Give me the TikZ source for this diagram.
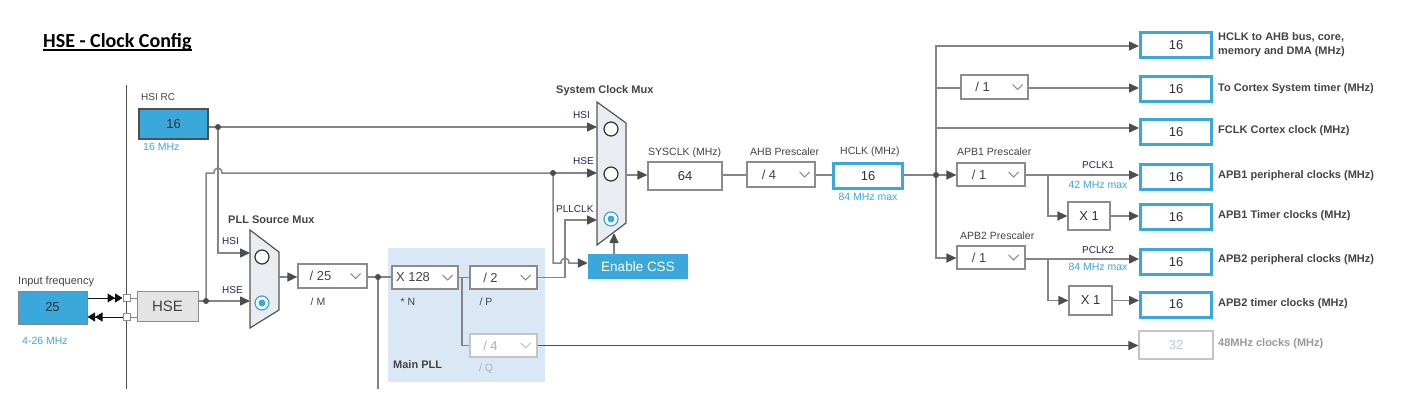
\documentclass[tikz,border=0pt]{standalone}
\usepackage{fontspec}
\setmainfont{Liberation Sans}
\newfontfamily\titlefont{Carlito}
\usetikzlibrary{arrows.meta,calc}
\newcommand\myfs[1]{\fontsize{#1}{#1}\selectfont}
\definecolor{cblue}{HTML}{3AA8DB}
\definecolor{wiregray}{HTML}{858585}
\definecolor{tipgray}{HTML}{4D4D4D}
\definecolor{txtgray}{HTML}{444444}
\definecolor{numgray}{HTML}{333333}
\definecolor{navy}{HTML}{1C2A55}
\definecolor{lbblue}{HTML}{3AA8E0}
\definecolor{muxfill}{HTML}{E9EDF1}
\definecolor{muxline}{HTML}{555555}
\definecolor{pllbg}{HTML}{DAE8F5}
\definecolor{hsefill}{HTML}{E4E4E4}
\definecolor{ddgray}{HTML}{8C8C8C}
\definecolor{dimgray}{HTML}{B0B0B0}
\definecolor{dimline}{HTML}{C4C4C4}
\definecolor{dimnum}{HTML}{B8C9DD}
\definecolor{dimlbl}{HTML}{9A9A9A}
\definecolor{radioline}{HTML}{333333}
\definecolor{blueborder}{HTML}{505050}
\definecolor{inkblack}{HTML}{111111}
\begin{document}
\begin{tikzpicture}[x=1pt,y=-1pt,
  wire/.style={draw=wiregray,line width=1.5pt},
  thinwire/.style={draw=wiregray,line width=1pt},
  darkwire/.style={draw=tipgray,line width=1pt},
  blackwire/.style={draw=inkblack,line width=1pt},
  arr/.style={-{Triangle[length=10pt,width=9pt,color=tipgray]}},
  lbl/.style={anchor=west,inner sep=0,text=txtgray,font=\myfs{10.5}},
  boldlbl/.style={lbl,font=\bfseries\myfs{11}},
  rlbl/.style={lbl,font=\bfseries\myfs{11}},
  navylbl/.style={lbl,text=navy,font=\myfs{10}},
  bluelbl/.style={inner sep=0,text=lbblue,font=\myfs{10.5}},
  sub/.style={inner sep=0,text=txtgray,font=\myfs{10.5}},
  bluebox/.style={fill=cblue,draw=blueborder,line width=1.5pt,font=\myfs{13},text=numgray,inner sep=0},
  vbox/.style={draw=ddgray,fill=white,line width=1.2pt,font=\myfs{13},text=numgray,inner sep=0},
  dd/.style={draw=ddgray,fill=white,line width=1.2pt,inner sep=0},
  dddim/.style={draw=dimline,fill=white,line width=1.2pt,inner sep=0},
  ddtxt/.style={inner sep=0,font=\myfs{13},text=txtgray},
  outbox/.style={draw=cblue,fill=white,line width=3pt,minimum width=71pt,minimum height=25pt,font=\myfs{13},text=numgray,inner sep=0},
  dimbox/.style={draw=dimline,fill=white,line width=1.2pt,minimum width=74pt,minimum height=28pt,font=\myfs{13},text=dimnum,inner sep=0},
  sq/.style={draw=ddgray,fill=white,line width=1pt,minimum size=7pt,inner sep=0},
  mux/.style={draw=muxline,fill=muxfill,line width=1.2pt},
  radio/.style={circle,draw=radioline,fill=white,line width=1.2pt,minimum size=14pt,inner sep=0},
  radiosel/.style={radio,draw=cblue,path picture={\fill[cblue] (path picture bounding box.center) circle (3.5pt);}},
  dot/.style={circle,fill=tipgray,inner sep=0,minimum size=6pt},
  chev/.pic={\draw[draw=ddgray,line width=1pt] (-5,-2.5) -- (0,2.5) -- (5,-2.5);},
  chevdim/.pic={\draw[draw=dimline,line width=1pt] (-5,-2.5) -- (0,2.5) -- (5,-2.5);},
  dtip/.style={-{Triangle[length=7.5pt,width=9pt,color=inkblack]Triangle[length=7.5pt,width=9pt,color=inkblack]}}
]
\useasboundingbox[fill=white] (0,0) rectangle (1408,409);

% ---------- background elements ----------
\node[fill=pllbg,minimum width=157pt,minimum height=134pt,inner sep=0] (mainpll) at (466.5,315) {};
\coordinate (vtop) at (126.5,85);
\coordinate (vbot) at (126.5,389);
\draw[darkwire] (vtop) -- (vbot);

% ---------- title ----------
\node[anchor=base west,inner sep=0,font=\titlefont\bfseries\myfs{20}] (title) at (43,47.5) {HSE - Clock Config};
\draw[line width=1.8pt] ([yshift=-2.8pt]title.base west) -- ([yshift=-2.8pt]title.base east);

% ---------- input / HSE ----------
\node[lbl,font=\myfs{11}] (inlbl) at (18,282) {Input frequency};
\node[bluebox,draw=wiregray,line width=1pt,minimum width=69pt,minimum height=33pt] (infreq) at (52.5,307.5) {25};
\node[bluelbl,anchor=west] (inrange) at (22,341) {4-26 MHz};
\node[sq] (sq1) at (126.5,298) {};
\node[sq] (sq2) at (126.5,317) {};
\node[draw=ddgray,fill=hsefill,line width=1pt,minimum width=61pt,minimum height=30pt,font=\myfs{15},text=txtgray,inner sep=0] (hse) at (167.5,306) {HSE};

\draw[blackwire,dtip] (infreq.east |- sq1) -- (sq1.west);
\draw[blackwire,dtip] (sq2.west) -- (infreq.east |- sq2);
\draw[thinwire] (sq1.east) -- (hse.west |- sq1);
\draw[thinwire] (sq2.east) -- (hse.west |- sq2);

% ---------- HSI RC ----------
\node[lbl,font=\myfs{10}] (hsilbl) at (141,97) {HSI RC};
\node[bluebox,minimum width=69pt,minimum height=30pt] (hsirc) at (173.5,124) {16};
\node[bluelbl,anchor=west] (hsifreq) at (143,147) {16 MHz};

% ---------- PLL source mux ----------
\draw[mux] (250,230) -- (279,252) -- (279,310) -- (250,328) -- cycle;
\node[radio] (pr1) at (262,257) {};
\node[radiosel] (pr2) at (262,303) {};
\node[boldlbl] (pllmuxlbl) at (228,220) {PLL Source Mux};
\node[navylbl] (plhsi) at (222,241) {HSI};
\node[navylbl] (plhse) at (222,290) {HSE};
\coordinate (pllin1) at (250,253);
\coordinate (pllin2) at (250,301);
\coordinate (pllout) at (279,277);

% ---------- PLL ----------
\node[dd,minimum width=69pt,minimum height=24pt] (pllm) at (332.5,276) {};
\node[ddtxt] (pllmt) at ([xshift=-12pt]pllm.center) {/ 25};
\pic at ([xshift=-12pt]pllm.east) {chev};
\node[sub] (pllml) at (318,302) {/ M};

\node[dd,minimum width=66pt,minimum height=23pt] (xn) at (425,277.5) {};
\node[ddtxt] (xnt) at ([xshift=-12pt]xn.center) {X 128};
\pic at ([xshift=-11pt]xn.east) {chev};
\node[sub] (xnl) at (408,302) {* N};

\node[dd,minimum width=67pt,minimum height=23pt] (pdiv) at (503.5,277.5) {};
\node[ddtxt] (pdivt) at ([xshift=-13pt]pdiv.center) {/ 2};
\node[sub] (pdivl) at (486,302) {/ P};
\pic at ([xshift=-12pt]pdiv.east) {chev};

\node[dddim,minimum width=67pt,minimum height=23pt] (qdiv) at (503.5,345.5) {};
\node[ddtxt,text=dimgray] (qdivt) at ([xshift=-13pt]qdiv.center) {/ 4};
\pic at ([xshift=-12pt]qdiv.east) {chevdim};
\node[sub,text=dimgray] (qdivl) at (486,369) {/ Q};
\node[boldlbl] (mainplllbl) at (393,365) {Main PLL};

% ---------- system clock mux ----------
\draw[mux] (597,102) -- (626,123) -- (626,223) -- (597,245) -- cycle;
\node[radio] (sr1) at (611,129) {};
\node[radio] (sr2) at (611,174) {};
\node[radiosel] (sr3) at (611,219) {};
\node[boldlbl] (smlbl) at (556,91) {System Clock Mux};
\node[navylbl] (smhsi) at (573,115) {HSI};
\node[navylbl] (smhse) at (573,161) {HSE};
\node[navylbl] (smpll) at (556,209) {PLLCLK};
\coordinate (smin1) at (597,127);
\coordinate (smin2) at (597,173);
\coordinate (smin3) at (597,220);
\coordinate (smout) at (626,175);
\coordinate (cssup) at (614,233);
\node[fill=cblue,text=white,font=\myfs{13.5},minimum width=100pt,minimum height=25pt,inner sep=0] (css) at (638,266.5) {Enable CSS};

% ---------- SYSCLK / AHB / HCLK ----------
\node[lbl] (sysclklbl) at (648,153) {SYSCLK (MHz)};
\node[vbox,minimum width=74pt,minimum height=28pt] (sysclk) at (685,176) {64};
\node[lbl] (ahblbl) at (750,152) {AHB Prescaler};
\node[dd,minimum width=68pt,minimum height=25pt] (ahb) at (781,174.5) {};
\node[ddtxt] (ahbt) at ([xshift=-12pt]ahb.center) {/ 4};
\pic at ([xshift=-11pt]ahb.east) {chev};
\node[lbl] (hclklbl) at (840,152) {HCLK (MHz)};
\node[outbox,minimum width=69pt] (hclk) at (868,176) {16};
\node[bluelbl] (hclkmax) at (868,197) {84 MHz max};

% ---------- right side ----------
\node[dd,minimum width=67pt,minimum height=24pt] (st) at (994.5,87) {};
\node[ddtxt] (stt) at ([xshift=-12pt]st.center) {/ 1};
\pic at ([xshift=-11pt]st.east) {chev};

\node[lbl] (apb1lbl) at (957,152) {APB1 Prescaler};
\node[dd,minimum width=68pt,minimum height=23pt] (apb1) at (991,174.5) {};
\node[ddtxt] (apb1t) at ([xshift=-12pt]apb1.center) {/ 1};
\pic at ([xshift=-12pt]apb1.east) {chev};
\node[lbl] (apb2lbl) at (960,236) {APB2 Prescaler};
\node[dd,minimum width=68pt,minimum height=23pt] (apb2) at (991,257.5) {};
\node[ddtxt] (apb2t) at ([xshift=-12pt]apb2.center) {/ 1};
\pic at ([xshift=-12pt]apb2.east) {chev};

\node[vbox,minimum width=42pt,minimum height=28pt] (x1a) at (1089,216) {X 1};
\node[vbox,minimum width=43pt,minimum height=29pt] (x1b) at (1090.5,300.5) {X 1};
\node[inner sep=0,text=navy,font=\myfs{10}] (pclk1) at (1098,165) {PCLK1};
\node[bluelbl] (pclk1max) at (1098,185) {42 MHz max};
\node[inner sep=0,text=navy,font=\myfs{10}] (pclk2) at (1098,250) {PCLK2};
\node[bluelbl] (pclk2max) at (1098,267) {84 MHz max};

\node[outbox] (o1) at (1176,45) {16};
\node[outbox] (o2) at (1176,89.5) {16};
\node[outbox] (o3) at (1176,132) {16};
\node[outbox] (o4) at (1176,177) {16};
\node[outbox] (o5) at (1176,217) {16};
\node[outbox] (o6) at (1176,262) {16};
\node[outbox] (o7) at (1176,304.5) {16};
\node[dimbox] (o8) at (1176,345) {32};

\node[rlbl] (t1a) at (1218,37) {HCLK to AHB bus, core,};
\node[rlbl] (t1b) at (1218,52) {memory and DMA (MHz)};
\node[rlbl] (t2) at (1218,89) {To Cortex System timer (MHz)};
\node[rlbl] (t3) at (1218,131) {FCLK Cortex clock (MHz)};
\node[rlbl] (t4) at (1218,176) {APB1 peripheral clocks (MHz)};
\node[rlbl] (t5) at (1218,216) {APB1 Timer clocks (MHz)};
\node[rlbl] (t6) at (1218,260) {APB2 peripheral clocks (MHz)};
\node[rlbl] (t7) at (1218,304) {APB2 timer clocks (MHz)};
\node[rlbl,text=dimlbl] (t8) at (1218,344) {48MHz clocks (MHz)};

% ---------- junction coordinates ----------
\coordinate (jhsi) at (218,127);
\coordinate (jhse) at (206,301);
\coordinate (hseup) at (206,173);
\coordinate (jcss) at (553,173);
\coordinate (cssd) at (553,263);
\coordinate (jm) at (378,277);
\coordinate (jmbot) at (378,389);
\coordinate (jq) at (462,277.5);
\coordinate (pcol) at (565,220);
\coordinate (jh) at (936,175);
\coordinate (jtop) at (936,46);
\coordinate (jst) at (936,88);
\coordinate (jf) at (936,128);
\coordinate (jbot) at (936,258);
\coordinate (ja1) at (1048,175);
\coordinate (ja2) at (1048,259);

% ---------- wires ----------
\draw[wire] (hsirc.east |- jhsi) -- (jhsi);
\draw[wire,arr] (jhsi) -- (jhsi |- pllin1) -- (pllin1);
\draw[wire,arr] (jhsi) -- (smin1);
\draw[wire,arr] (hse.east |- jhse) -- (pllin2);
\draw[wire] (jhse) -- (hseup) -- (214,173) .. controls (214,166.5) and (222,166.5) .. (222,173) -- (jcss);
\draw[wire,arr] (jcss) -- (smin2);
\draw[wire,arr] (jcss) -- (cssd) -- (561,263) .. controls (561,256.5) and (569,256.5) .. (569,263) -- (css.west |- cssd);
\draw[wire,arr] (cssup |- css.north) -- (cssup);

\draw[wire,arr] (pllout) -- (pllm.west |- pllout);
\draw[wire] (pllm.east |- jm) -- (jm) -- (xn.west |- jm);
\draw[wire] (jm) -- (jmbot);
\draw[wire] (xn.east) -- (pdiv.west);
\draw[wire] (jq) -- (jq |- qdiv) -- (qdiv.west);
\draw[wire,arr] (pdiv.east) -| (pcol) -- (smin3);
\draw[darkwire,arr] (qdiv.east) -- (qdiv.east -| o8.west);

\draw[wire,arr] (smout) -- (sysclk.west |- smout);
\draw[wire] (sysclk.east |- smout) -- (ahb.west |- smout);
\draw[wire] (ahb.east |- smout) -- (hclk.west |- smout);
\draw[wire] (hclk.east |- jh) -- (jh);
\draw[wire,arr] (jh) -- (apb1.west |- jh);
\draw[wire,arr] (jh) -- (jbot) -- (apb2.west |- jbot);
\draw[wire,arr] (jh) -- (jtop) -- (jtop -| o1.west);
\draw[wire] (jst) -- (st.west |- jst);
\draw[wire,arr] (st.east |- jst) -- (jst -| o2.west);
\draw[wire,arr] (jf) -- (jf -| o3.west);

\draw[wire,arr] (apb1.east |- ja1) -- (ja1 -| o4.west);
\draw[wire,arr] (ja1) |- (x1a.west);
\draw[wire,arr] (x1a.east) -- (x1a.east -| o5.west);
\draw[wire,arr] (apb2.east |- ja2) -- (ja2 -| o6.west);
\draw[wire,arr] (ja2) |- (x1b.west);
\draw[wire,arr] (x1b.east) -- (x1b.east -| o7.west);

% ---------- junction dots ----------
\node[dot] (djhsi) at (jhsi) {};
\node[dot] (djhse) at (jhse) {};
\node[dot] (djcss) at (jcss) {};
\node[dot] (djm) at (jm) {};
\node[dot] (djh) at (jh) {};
\end{tikzpicture}
\end{document}
